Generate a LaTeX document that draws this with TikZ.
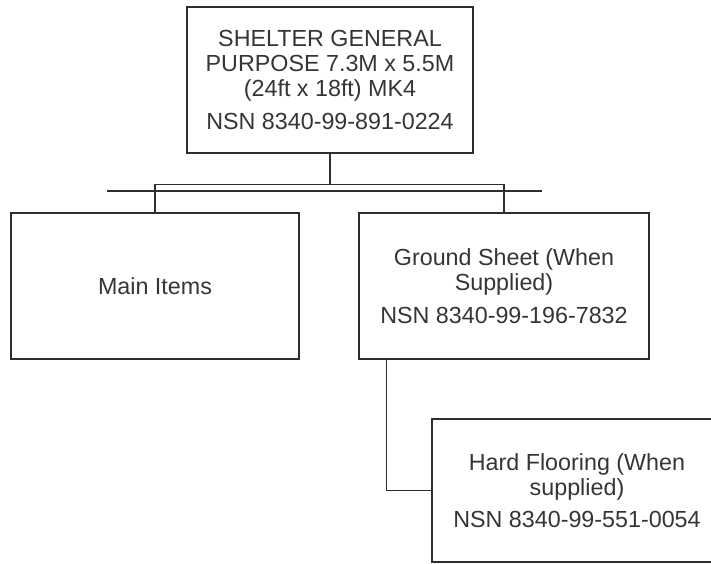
\documentclass[tikz,border=0pt]{standalone}
\usepackage{fontspec}
\setmainfont{Liberation Sans}
\definecolor{inkgray}{HTML}{353535}
\definecolor{linegray}{HTML}{2E2E2E}
\usetikzlibrary{calc, positioning}

\begin{document}
\begin{tikzpicture}[x=1pt, y=-1pt,
  itembox/.style={draw=linegray, line width=1.5pt, inner sep=0pt, align=center,
    text=inkgray, font=\fontsize{23.3}{25.3}\selectfont},
  link/.style={draw=linegray, line width=1.4pt}]
  \clip (0,0) rectangle (711,563);

  \node[itembox, minimum width=286pt, minimum height=146pt] (shelter) at (330,80)
    {SHELTER GENERAL\\PURPOSE 7.3M x 5.5M\\(24ft x 18ft) MK4\\[8pt]NSN 8340-99-891-0224};

  \node[itembox, minimum width=288pt, minimum height=146pt] (main) at (155,286) {Main Items};

  \node[itembox, minimum width=290pt, minimum height=146pt] (ground) at (504,286)
    {Ground Sheet (When\\Supplied)\\[7pt]NSN 8340-99-196-7832};

  \node[itembox, minimum width=290pt, minimum height=143pt] (flooring) at (577,490.5)
    {Hard Flooring (When\\supplied)\\[6pt]NSN 8340-99-551-0054};

  % tree lines
  \coordinate (bus) at ($(shelter.south)+(0,31)$);
  \draw[link] (shelter.south) -- (bus);
  \draw[link] (bus) -| (main.north);
  \draw[link] (bus) -| (ground.north);
  \draw[line width=1.8pt, linegray] (107,191) -- (542,191);

  \draw[link] ([xshift=28pt]ground.south west) |- (flooring.west);
\end{tikzpicture}
\end{document}
